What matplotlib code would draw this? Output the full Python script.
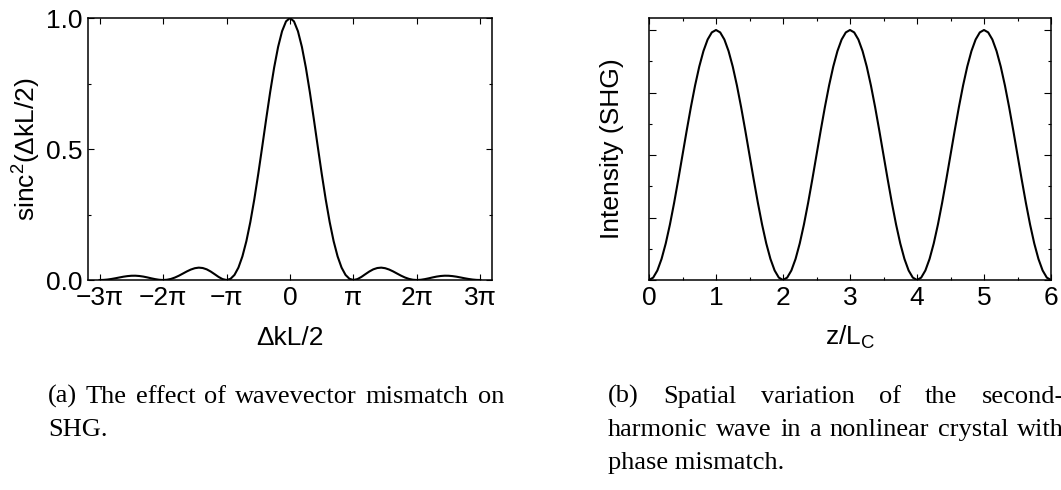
import numpy as np
import matplotlib
matplotlib.use("Agg")
import matplotlib.pyplot as plt
from matplotlib.ticker import MultipleLocator

plt.rcParams['font.family'] = ['Liberation Sans', 'DejaVu Sans']
plt.rcParams['mathtext.fontset'] = 'custom'
plt.rcParams['mathtext.rm'] = 'Liberation Sans'
plt.rcParams['mathtext.default'] = 'regular'

# (a) sinc^2(dkL/2), x in units of pi (step pi/16)
dk_over_pi = np.arange(-48, 49) / 16
sinc2 = [0, 0.0004, 0.0018, 0.0040, 0.0067, 0.0097, 0.0126, 0.0148,
         0.0162, 0.0164, 0.0153, 0.0131, 0.0100, 0.0065, 0.0033, 0.0009,
         0, 0.0010, 0.0042, 0.0095, 0.0165, 0.0246, 0.0328, 0.0399,
         0.0450, 0.0472, 0.0457, 0.0407, 0.0324, 0.0222, 0.0117, 0.0034,
         0, 0.0044, 0.0194, 0.0474, 0.0901, 0.1482, 0.2214, 0.3080,
         0.4053, 0.5092, 0.6150, 0.7173, 0.8106, 0.8896, 0.9496, 0.9872,
         1.0,
         0.9872, 0.9496, 0.8896, 0.8106, 0.7173, 0.6150, 0.5092, 0.4053,
         0.3080, 0.2214, 0.1482, 0.0901, 0.0474, 0.0194, 0.0044, 0,
         0.0034, 0.0117, 0.0222, 0.0324, 0.0407, 0.0457, 0.0472, 0.0450,
         0.0399, 0.0328, 0.0246, 0.0165, 0.0095, 0.0042, 0.0010, 0,
         0.0009, 0.0033, 0.0065, 0.0100, 0.0131, 0.0153, 0.0164, 0.0162,
         0.0148, 0.0126, 0.0097, 0.0067, 0.0040, 0.0018, 0.0004, 0]
pi_ticks = [-3, -2, -1, 0, 1, 2, 3]
pi_labels = ['\u22123\u03c0', '\u22122\u03c0', '\u2212\u03c0', '0', '\u03c0', '2\u03c0', '3\u03c0']

# (b) SHG intensity vs z/Lc (step 1/16)
z = np.arange(0, 97) / 16
shg = [0, 0.0096, 0.0381, 0.0843, 0.1464, 0.2222, 0.3087, 0.4025,
       0.5, 0.5975, 0.6913, 0.7778, 0.8536, 0.9157, 0.9619, 0.9904,
       1, 0.9904, 0.9619, 0.9157, 0.8536, 0.7778, 0.6913, 0.5975,
       0.5, 0.4025, 0.3087, 0.2222, 0.1464, 0.0843, 0.0381, 0.0096,
       0, 0.0096, 0.0381, 0.0843, 0.1464, 0.2222, 0.3087, 0.4025,
       0.5, 0.5975, 0.6913, 0.7778, 0.8536, 0.9157, 0.9619, 0.9904,
       1, 0.9904, 0.9619, 0.9157, 0.8536, 0.7778, 0.6913, 0.5975,
       0.5, 0.4025, 0.3087, 0.2222, 0.1464, 0.0843, 0.0381, 0.0096,
       0, 0.0096, 0.0381, 0.0843, 0.1464, 0.2222, 0.3087, 0.4025,
       0.5, 0.5975, 0.6913, 0.7778, 0.8536, 0.9157, 0.9619, 0.9904,
       1, 0.9904, 0.9619, 0.9157, 0.8536, 0.7778, 0.6913, 0.5975,
       0.5, 0.4025, 0.3087, 0.2222, 0.1464, 0.0843, 0.0381, 0.0096, 0]

caption_a = ["(a) The effect of wavevector mismatch on", "SHG."]
caption_b = ["(b) Spatial variation of the second-",
             "harmonic wave in a nonlinear crystal with",
             "phase mismatch."]

W, H = 1061, 490
fig = plt.figure(figsize=(W / 100, H / 100), dpi=100)
ax1 = fig.add_axes([88 / W, 1 - 280 / H, 404 / W, 262 / H])
ax2 = fig.add_axes([649 / W, 1 - 280 / H, 402 / W, 262 / H])

FS = 19
for ax in (ax1, ax2):
    for s in ax.spines.values():
        s.set_linewidth(1.1)
    ax.tick_params(which='both', direction='in', top=True, right=True,
                   width=0.8, labelsize=FS, pad=4)
    ax.tick_params(which='major', length=4)
    ax.tick_params(which='minor', length=2.5)

ax1.plot(np.array(dk_over_pi) * np.pi, sinc2, color='black', lw=1.5)
ax1.set_xlim(-10, 10)
ax1.set_ylim(0, 1)
ax1.set_xticks(np.array(pi_ticks) * np.pi)
ax1.set_xticklabels(pi_labels)
ax1.set_yticks([0, 0.5, 1.0])
ax1.set_yticklabels(['0.0', '0.5', '1.0'])
ax1.yaxis.set_minor_locator(MultipleLocator(0.25))
ax1.set_xlabel('\u0394kL/2', fontsize=FS, labelpad=12)
ax1.set_ylabel('sinc$^2$(\u0394kL/2)', fontsize=FS, labelpad=2)

ax2.plot(z, shg, color='black', lw=1.5)
ax2.set_xlim(0, 6)
ax2.set_ylim(0, 1.048)
ax2.set_xticks(range(7))
ax2.xaxis.set_minor_locator(MultipleLocator(0.5))
ax2.yaxis.set_major_locator(MultipleLocator(0.25))
ax2.yaxis.set_minor_locator(MultipleLocator(0.125))
ax2.set_yticklabels([])
ax2.tick_params(axis='y', which='major', length=5)
ax2.set_xlabel('z/L$_\\mathregular{C}$', fontsize=FS, labelpad=10)
ax2.set_ylabel('Intensity (SHG)', fontsize=FS, labelpad=14)

# justified caption text, drawn word by word
renderer = fig.canvas.get_renderer()
cap_font = dict(family='Liberation Serif', fontsize=19, color='black')


def caption(lines, x0, x1, y0, dy):
    for i, line in enumerate(lines):
        y = (H - (y0 + i * dy)) / H
        words = line.split()
        if i == len(lines) - 1:
            fig.text(x0 / W, y, line, va='baseline', **cap_font)
            continue
        arts = [fig.text(0, y, w, va='baseline', **cap_font) for w in words]
        widths = [a.get_window_extent(renderer).width for a in arts]
        gap = (x1 - x0 - sum(widths)) / max(len(words) - 1, 1)
        x = x0
        for a, wd in zip(arts, widths):
            a.set_x(x / W)
            x += wd + gap


caption(caption_a, 48, 504, 403, 33)
caption(caption_b, 608, 1064, 403, 33)

fig.savefig('out.png', dpi=100)
